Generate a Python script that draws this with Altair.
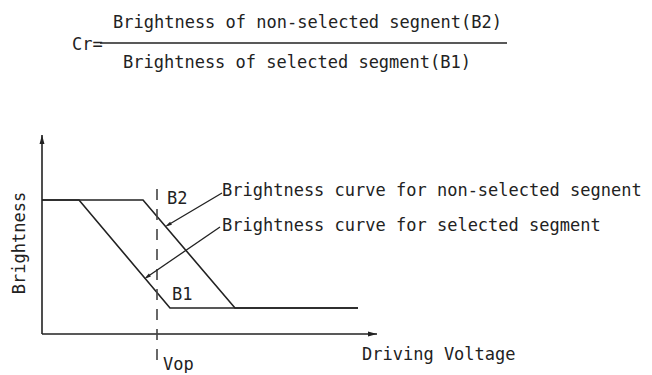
import altair as alt
import pandas as pd
import numpy as np

# ---- data (voltage / brightness units of the sketch) ----
nonsel_v = [0.0, 10.1, 19.3, 31.6]
nonsel_b = [13.4, 13.4, 2.6, 2.6]
sel_v = [0.0, 3.7, 12.8, 31.6]
sel_b = [13.4, 13.4, 2.6, 2.6]

vop_v = 11.5
vop_b = [-2.6, 15.4]

x_axis_end = 33.5
y_axis_end = 19.9

leader_start_v = [18.0, 17.8]
leader_start_b = [14.1, 10.7]
leader_end_v = [12.6, 10.5]
leader_end_b = [10.9, 5.7]

frac_v = [5.8, 46.5]
frac_b = 29.1

label_text = [
    "Brightness curve for non-selected segnent",
    "Brightness curve for selected segment",
    "B2", "B1", "Vop", "Driving Voltage",
    "Cr=",
    "Brightness of non-selected segnent(B2)",
    "Brightness of selected segment(B1)",
]
label_v = [18.0, 18.0, 12.5, 13.0, 12.1, 32.0, 3.0, 7.1, 8.1]
label_b = [14.3, 10.8, 13.5, 3.9, -3.1, -2.1, 28.9, 31.1, 27.1]

ylabel_text = ["Brightness"]
ylabel_v = [-2.2]
ylabel_b = [9.1]

# ---- scales ----
W, H = 636, 365
XS = alt.Scale(domain=[-3.4, 60.2], nice=False, zero=False)
YS = alt.Scale(domain=[-3.9, 32.6], nice=False, zero=False)
INK = "#222222"
FONT = "DejaVu Sans Mono"


def X(f="v"):
    return alt.X(f"{f}:Q", scale=XS, axis=None)


def Y(f="b"):
    return alt.Y(f"{f}:Q", scale=YS, axis=None)


curves = pd.DataFrame({
    "v": nonsel_v + sel_v,
    "b": nonsel_b + sel_b,
    "series": ["non-selected"] * len(nonsel_v) + ["selected"] * len(sel_v),
    "order": list(range(len(nonsel_v))) + list(range(len(sel_v))),
})
curve_layer = alt.Chart(curves).mark_line(color=INK, strokeWidth=1.6).encode(
    x=X(), y=Y(), detail="series:N", order="order:Q"
)

axes = pd.DataFrame({
    "v": [0.0, 0.0], "v2": [0.0, x_axis_end],
    "b": [0.0, 0.0], "b2": [y_axis_end, 0.0],
})
axis_layer = alt.Chart(axes).mark_rule(color=INK, strokeWidth=1.6).encode(
    x=X(), x2="v2:Q", y=Y(), y2="b2:Q"
)

head_len = 0.45
heads = pd.DataFrame({
    "v": [0.0, x_axis_end - head_len],
    "b": [y_axis_end - head_len, 0.0],
    "angle": [0, 90],
})
ARROW = "M0,-1L-0.55,1L0.55,1Z"
head_layer = alt.Chart(heads).mark_point(
    shape=ARROW, filled=True, size=81, color=INK, opacity=1
).encode(x=X(), y=Y(), angle=alt.Angle("angle:Q", scale=None))

vop = pd.DataFrame({"v": [vop_v], "b": [vop_b[0]], "b2": [vop_b[1]]})
vop_layer = alt.Chart(vop).mark_rule(
    color="#444444", strokeWidth=1.6, strokeDash=[11, 9]
).encode(x=X(), y=Y(), y2="b2:Q")

frac = pd.DataFrame({"v": [frac_v[0]], "v2": [frac_v[1]], "b": [frac_b]})
frac_layer = alt.Chart(frac).mark_rule(color=INK, strokeWidth=1.6).encode(
    x=X(), x2="v2:Q", y=Y()
)

leaders = pd.DataFrame({
    "v": leader_start_v, "v2": leader_end_v,
    "b": leader_start_b, "b2": leader_end_b,
})
leader_layer = alt.Chart(leaders).mark_rule(color=INK, strokeWidth=1.3).encode(
    x=X(), x2="v2:Q", y=Y(), y2="b2:Q"
)

dv = np.array(leader_end_v) - np.array(leader_start_v)
db = np.array(leader_end_b) - np.array(leader_start_b)
ang = (np.degrees(np.arctan2(dv, db)) + 360) % 360
lheads = pd.DataFrame({
    "v": leader_end_v, "b": leader_end_b, "angle": ang,
})
lhead_layer = alt.Chart(lheads).mark_point(
    shape="M0,-1L-0.5,1L0.5,1Z", filled=True, size=49, color=INK, opacity=1
).encode(x=X(), y=Y(), angle=alt.Angle("angle:Q", scale=None))

labels = pd.DataFrame({"text": label_text, "v": label_v, "b": label_b})
label_layer = alt.Chart(labels).mark_text(
    align="left", baseline="middle", font=FONT, fontSize=17, color=INK
).encode(x=X(), y=Y(), text="text:N")

ylab = pd.DataFrame({"text": ylabel_text, "v": ylabel_v, "b": ylabel_b})
ylab_layer = alt.Chart(ylab).mark_text(
    align="center", baseline="middle", font=FONT, fontSize=17, color=INK, angle=270
).encode(x=X(), y=Y(), text="text:N")

chart = alt.layer(
    curve_layer, axis_layer, head_layer, vop_layer, frac_layer,
    leader_layer, lhead_layer, label_layer, ylab_layer,
).properties(
    width=W, height=H, padding=0,
    autosize=alt.AutoSizeParams(type="none"),
    background="white",
).configure_view(stroke=None)

chart.save("out.html", embed_options={"renderer": "svg", "actions": False})
